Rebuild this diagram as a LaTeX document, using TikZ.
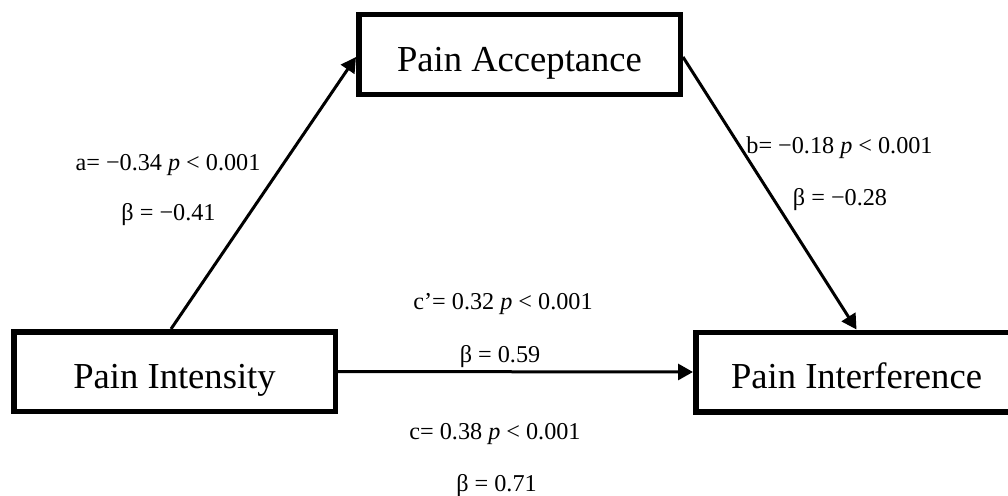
\documentclass[tikz,border=0pt]{standalone}
\usepackage{fontspec}
\setmainfont{Liberation Serif}
\usetikzlibrary{arrows.meta}
\begin{document}
\begin{tikzpicture}[x=1pt,y=-1pt,
  box/.style={draw, line width=5.5pt, minimum width=321.5pt, minimum height=79.5pt, inner sep=0pt, text height=33pt, text depth=0pt, font=\fontsize{36.6}{40}\selectfont},
  lbl/.style={anchor=base, inner sep=0pt, font=\fontsize{24.2}{28}\selectfont},
  conn/.style={line width=3pt, -{Triangle[length=15pt,width=16pt]}}]
\clip (0,0) rectangle (1008,495);
\node[box] (acc) at (519.5,54.5) {Pain Acceptance};
\node[box] (int) at (174.5,371.5) {Pain Intensity};
\node[box] (inf) at (856.5,372) {Pain Interference};
\draw[conn] ([xshift=-3.5pt]int.north) -- ([yshift=-2.5pt]acc.west);
\draw[conn] ([yshift=-2.5pt]acc.east) -- (inf.north);
\draw[conn] (int.east) -- (inf.west);
\node[lbl] (la1) at (168,170) {a= −0.34 \textit{p} < 0.001};
\node[lbl] (la2) at (168.5,220) {β = −0.41};
\node[lbl] (lb1) at (839.5,153) {b= −0.18 \textit{p} < 0.001};
\node[lbl] (lb2) at (840,205) {β = −0.28};
\node[lbl] (lc1) at (503,309) {c’= 0.32 \textit{p} < 0.001};
\node[lbl] (lc2) at (500,362) {β = 0.59};
\node[lbl] (ld1) at (495,439) {c= 0.38 \textit{p} < 0.001};
\node[lbl] (ld2) at (496.5,491) {β = 0.71};
\end{tikzpicture}
\end{document}
